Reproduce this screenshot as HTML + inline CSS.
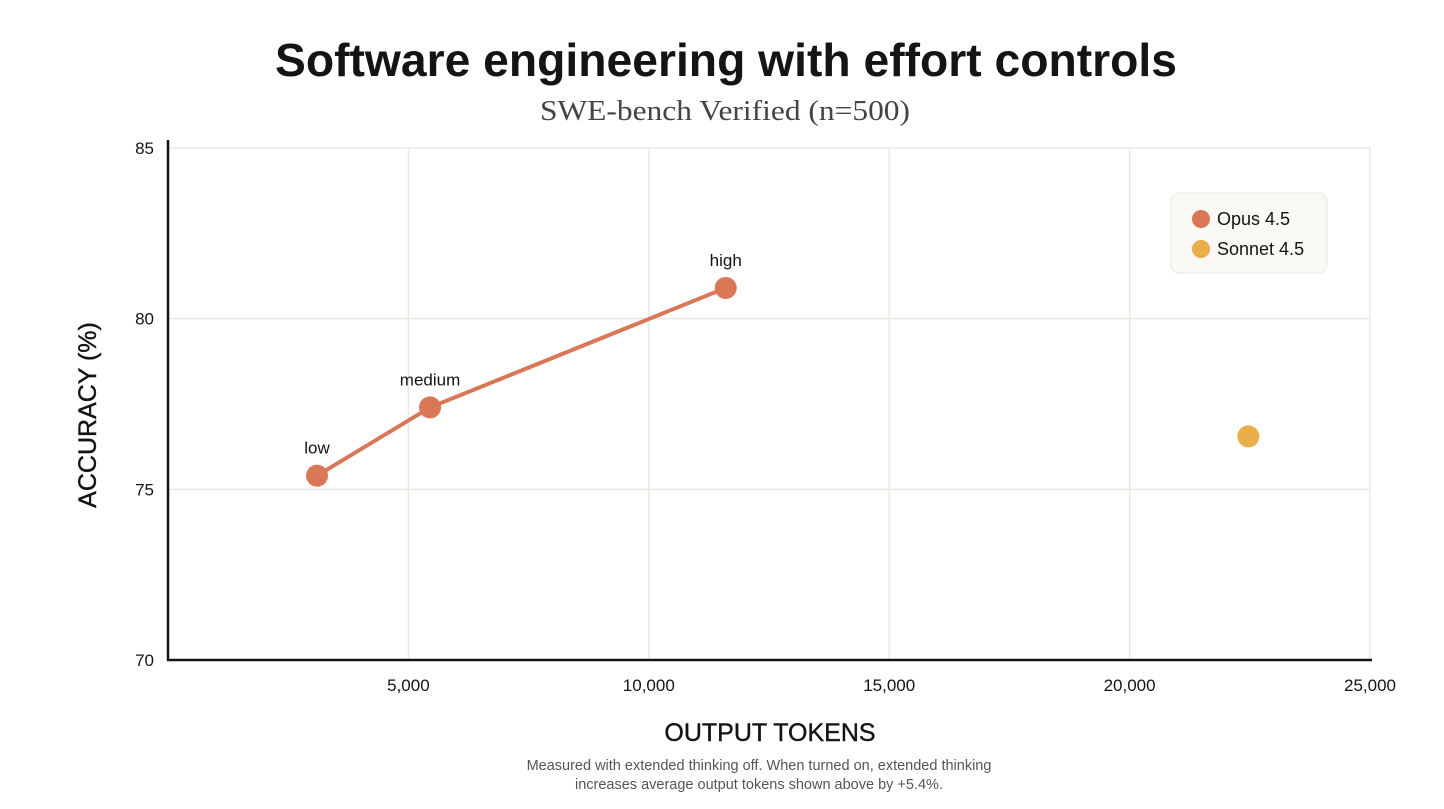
<!DOCTYPE html>
<html><head><meta charset="utf-8"><style>
body{margin:0;background:#fff;width:1444px;height:804px;overflow:hidden;font-family:"Liberation Sans",sans-serif}
</style></head><body>
<svg width="1444" height="804">
<text x="275" y="76" textLength="902" lengthAdjust="spacingAndGlyphs" font-size="46" font-weight="600" fill="#141413">Software engineering with effort controls</text>
<text x="540" y="120" textLength="370" lengthAdjust="spacingAndGlyphs" font-size="29" font-family="Liberation Serif" fill="#444">SWE-bench Verified (n=500)</text>
<g id="grid"></g>
<g id="axes"></g>
<g id="marks"></g>
<text transform="translate(96,415) rotate(-90)" text-anchor="middle" font-size="25" fill="#141413" stroke="#141413" stroke-width="0.4">ACCURACY (%)</text>
<text x="770" y="741" text-anchor="middle" font-size="25" fill="#141413" stroke="#141413" stroke-width="0.4">OUTPUT TOKENS</text>
<text x="759" y="770" text-anchor="middle" font-size="14.5" fill="#555">Measured with extended thinking off. When turned on, extended thinking</text>
<text x="759" y="789" text-anchor="middle" font-size="14.5" fill="#555">increases average output tokens shown above by +5.4%.</text>
<g>
<rect x="1171" y="193" width="156" height="80" rx="8" fill="#faf9f5" stroke="#ebe8df"/>
<circle cx="1201" cy="219" r="9" fill="#d97757"/>
<text x="1217" y="225" font-size="18" fill="#141413">Opus 4.5</text>
<circle cx="1201" cy="249" r="9" fill="#eaae4a"/>
<text x="1217" y="255" font-size="18" fill="#141413">Sonnet 4.5</text>
</g>
</svg>
<script>
const xTicks=[5000,10000,15000,20000,25000];
const xTickLabels=["5,000","10,000","15,000","20,000","25,000"];
const yTicks=[70,75,80,85];
const opusTokens=[3100,5450,11600];
const opusAcc=[75.4,77.4,80.9];
const opusLabels=["low","medium","high"];
const sonnetTokens=[22470];
const sonnetAcc=[76.55];
const NS="http://www.w3.org/2000/svg";
const X0=168,X1=1370,Y0=660,Y1=148;
const xs=v=>X0+(v/25000)*(X1-X0);
const ys=v=>Y0-(v-70)/15*(Y0-Y1);
function mk(tag,attrs,parent,txt){const e=document.createElementNS(NS,tag);for(const k in attrs)e.setAttribute(k,attrs[k]);if(txt!=null)e.textContent=txt;document.getElementById(parent).appendChild(e);return e;}
xTicks.forEach((t,i)=>{
 let l=mk('line',{x1:xs(t),x2:xs(t),y1:Y1,y2:Y0,stroke:'#ebe9e0','stroke-width':1.5},'grid');
 
 
 let tx=mk('text',{x:xs(t),y:691,'text-anchor':'middle','font-size':17,fill:'#141413'},'axes',xTickLabels[i]);
 
 
});
yTicks.forEach(t=>{
 if(t>70){let l=mk('line',{x1:X0,x2:X1,y1:ys(t),y2:ys(t),stroke:'#ebe9e0','stroke-width':1.5},'grid');
 
 }
 let tx=mk('text',{x:154,y:ys(t)+6,'text-anchor':'end','font-size':17,fill:'#141413'},'axes',t);
 
 
});
let ya=mk('line',{x1:X0,x2:X0,y1:140,y2:Y0+1,stroke:'#141413','stroke-width':2.5},'axes');


let xa=mk('line',{x1:X0-1,x2:1372,y1:Y0,y2:Y0,stroke:'#141413','stroke-width':2.5},'axes');


let pl=mk('polyline',{points:opusTokens.map((t,i)=>xs(t)+','+ys(opusAcc[i])).join(' '),fill:'none',stroke:'#d97757','stroke-width':4},'marks');


opusTokens.forEach((t,i)=>{
 let c=mk('circle',{cx:xs(t),cy:ys(opusAcc[i]),r:11,fill:'#d97757'},'marks');
 
 
 let tx=mk('text',{x:xs(t),y:ys(opusAcc[i])-22,'text-anchor':'middle','font-size':17,fill:'#141413'},'marks',opusLabels[i]);
 
 
});
sonnetTokens.forEach((t,i)=>{
 let c=mk('circle',{cx:xs(t),cy:ys(sonnetAcc[i]),r:11,fill:'#eaae4a'},'marks');
 
 
});
</script>
</body></html>
